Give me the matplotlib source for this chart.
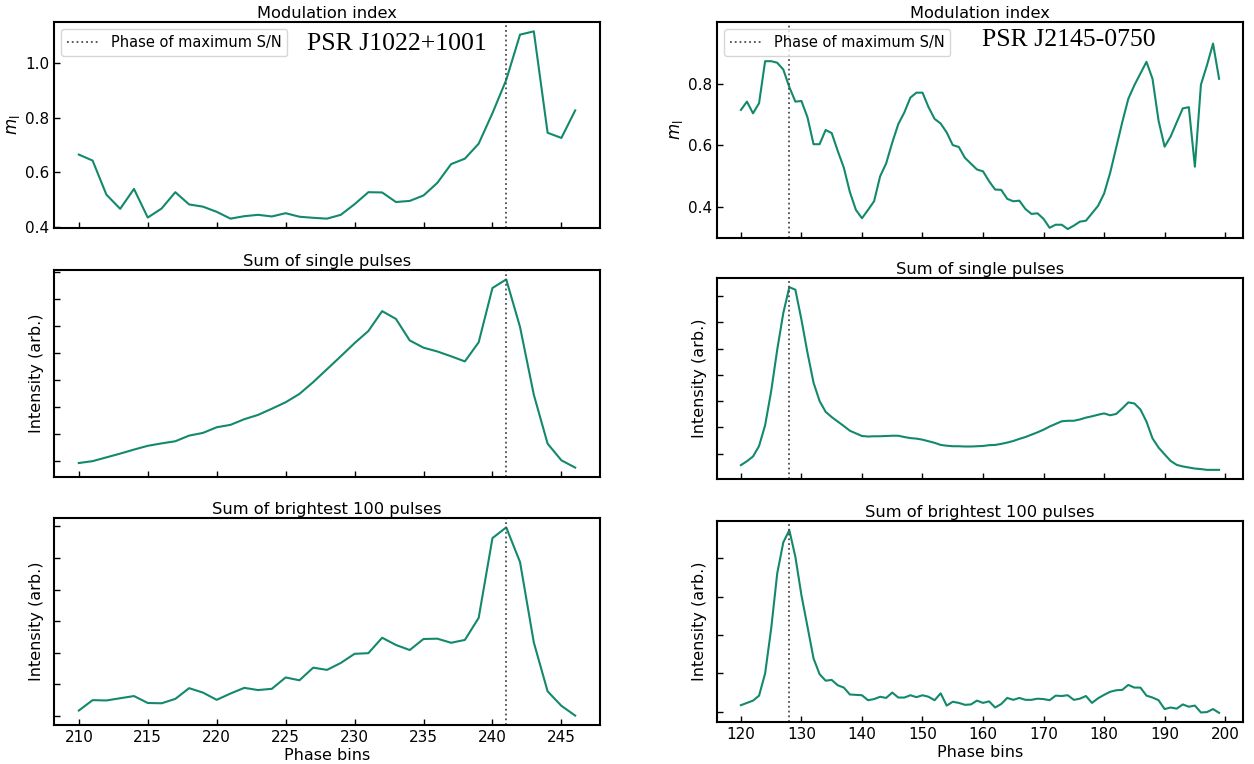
import numpy as np
import matplotlib
matplotlib.use("Agg")
import matplotlib.pyplot as plt
from matplotlib.ticker import MultipleLocator, NullFormatter

# PSR J1022+1001, phase bins 210..246
bins_a = np.arange(210, 247)
mod_a = [0.665, 0.643, 0.518, 0.466, 0.539, 0.434, 0.467, 0.527, 0.482, 0.474,
         0.455, 0.430, 0.439, 0.444, 0.438, 0.450, 0.437, 0.433, 0.430, 0.444,
         0.483, 0.527, 0.526, 0.491, 0.495, 0.515, 0.561, 0.630, 0.650, 0.705,
         0.817, 0.939, 1.105, 1.117, 0.745, 0.726, 0.827]
sum_a = [-0.09, -0.02, 0.12, 0.26, 0.41, 0.55, 0.64, 0.72, 0.93, 1.03,
         1.24, 1.33, 1.54, 1.70, 1.93, 2.17, 2.48, 2.92, 3.40, 3.88,
         4.37, 4.82, 5.56, 5.27, 4.47, 4.20, 4.06, 3.88, 3.69, 4.40,
         6.42, 6.74, 4.97, 2.45, 0.63, 0.01, -0.26]
bright_a = [0.16, 0.49, 0.48, 0.55, 0.62, 0.40, 0.39, 0.53, 0.87, 0.73,
            0.50, 0.70, 0.88, 0.81, 0.85, 1.21, 1.12, 1.52, 1.45, 1.67,
            1.96, 1.98, 2.47, 2.24, 2.08, 2.43, 2.44, 2.31, 2.40, 3.10,
            5.63, 5.97, 4.87, 2.32, 0.77, 0.31, 0.00]
peak_a = 241

# PSR J2145-0750, phase bins 120..199
bins_b = np.arange(120, 200)
mod_b = [0.715, 0.742, 0.704, 0.737, 0.873, 0.873, 0.868, 0.846, 0.789, 0.742,
         0.744, 0.691, 0.604, 0.604, 0.650, 0.640, 0.582, 0.528, 0.449, 0.391,
         0.364, 0.391, 0.419, 0.500, 0.542, 0.609, 0.669, 0.707, 0.755, 0.771,
         0.771, 0.724, 0.686, 0.671, 0.642, 0.601, 0.595, 0.560, 0.541, 0.522,
         0.516, 0.484, 0.457, 0.456, 0.427, 0.419, 0.421, 0.394, 0.378, 0.380,
         0.362, 0.333, 0.343, 0.343, 0.329, 0.340, 0.353, 0.356, 0.380, 0.404,
         0.444, 0.511, 0.593, 0.675, 0.751, 0.795, 0.833, 0.871, 0.816, 0.680,
         0.596, 0.629, 0.675, 0.720, 0.724, 0.531, 0.797, 0.860, 0.930, 0.816]
sum_b = [-0.44, -0.29, -0.11, 0.29, 1.08, 2.38, 3.96, 5.35, 6.34, 6.24,
         5.10, 3.84, 2.70, 2.00, 1.59, 1.39, 1.22, 1.05, 0.87, 0.77,
         0.67, 0.65, 0.66, 0.66, 0.67, 0.68, 0.68, 0.63, 0.59, 0.57,
         0.53, 0.47, 0.41, 0.33, 0.30, 0.28, 0.28, 0.27, 0.27, 0.28,
         0.29, 0.32, 0.33, 0.37, 0.42, 0.48, 0.56, 0.63, 0.72, 0.81,
         0.91, 1.03, 1.13, 1.23, 1.25, 1.25, 1.30, 1.37, 1.42, 1.48,
         1.53, 1.46, 1.51, 1.72, 1.95, 1.91, 1.68, 1.22, 0.58, 0.23,
         -0.03, -0.28, -0.43, -0.49, -0.53, -0.57, -0.59, -0.62, -0.62, -0.62]
bright_b = [0.17, 0.23, 0.29, 0.42, 1.00, 2.17, 3.61, 4.42, 4.74, 4.04,
            3.04, 2.22, 1.39, 0.98, 0.81, 0.83, 0.69, 0.63, 0.45, 0.44,
            0.43, 0.30, 0.33, 0.39, 0.36, 0.50, 0.37, 0.37, 0.43, 0.38,
            0.43, 0.39, 0.30, 0.48, 0.16, 0.26, 0.23, 0.18, 0.19, 0.29,
            0.23, 0.27, 0.11, 0.20, 0.36, 0.31, 0.36, 0.31, 0.31, 0.34,
            0.33, 0.30, 0.42, 0.41, 0.43, 0.31, 0.34, 0.41, 0.23, 0.35,
            0.44, 0.52, 0.56, 0.57, 0.70, 0.63, 0.63, 0.42, 0.37, 0.30,
            0.07, 0.11, 0.08, 0.19, 0.13, 0.16, -0.02, -0.01, 0.07, -0.03]
peak_b = 128

col = "#13896b"
W, H = 1254, 764
plt.rcParams["font.family"] = "DejaVu Sans"
plt.rcParams["font.size"] = 11
plt.rcParams["axes.linewidth"] = 1.5

fig = plt.figure(figsize=(W / 100, H / 100), dpi=100)


def box(x0, y0, x1, y1):
    return [x0 / W, 1 - y1 / H, (x1 - x0) / W, (y1 - y0) / H]


def panel(rect, x, y, peak, title, xstep, bottom=False):
    ax = fig.add_axes(rect)
    ax.plot(x, y, color=col, lw=1.5)
    ax.axvline(peak, color="0.3", ls=":", lw=1.3, label="Phase of maximum S/N")
    ax.set_title(title, fontsize=11.7, pad=3)
    ax.xaxis.set_major_locator(MultipleLocator(xstep))
    ax.tick_params(direction="in", length=4, width=1, labelsize=11,
                   top=False, right=False)
    if bottom:
        ax.set_xlabel("Phase bins", fontsize=11.5, labelpad=2)
    else:
        ax.xaxis.set_major_formatter(NullFormatter())
    return ax


def intensity(ax):
    ax.yaxis.set_major_locator(MultipleLocator(1))
    ax.yaxis.set_major_formatter(NullFormatter())
    ax.set_ylabel("Intensity (arb.)", fontsize=11.5)


# left column
ax = panel(box(54, 22, 600, 228), bins_a, mod_a, peak_a, "Modulation index", 5)
ax.set_ylabel(r"$m_{\rm l}$", fontsize=12, labelpad=2)
ax.set_yticks([0.4, 0.6, 0.8, 1.0])
ax.legend(loc="upper left", fontsize=10.5, handlelength=2.2)
ax.text(0.628, 0.895, "PSR J1022+1001", transform=ax.transAxes, ha="center",
        va="center", fontsize=18.5, family="Liberation Serif")

ax = panel(box(54, 270, 600, 477), bins_a, sum_a, peak_a, "Sum of single pulses", 5)
intensity(ax)
ax = panel(box(54, 518, 600, 725), bins_a, bright_a, peak_a,
           "Sum of brightest 100 pulses", 5, bottom=True)
intensity(ax)

# right column
ax = panel(box(717, 22, 1243, 238), bins_b, mod_b, peak_b, "Modulation index", 10)
ax.set_ylabel(r"$m_{\rm l}$", fontsize=12, labelpad=2)
ax.set_ylim(0.30, 1.0)
ax.set_yticks([0.4, 0.6, 0.8])
ax.legend(loc="upper left", fontsize=10.5, handlelength=2.2)
ax.text(0.668, 0.915, "PSR J2145-0750", transform=ax.transAxes, ha="center",
        va="center", fontsize=18.5, family="Liberation Serif")

ax = panel(box(717, 278, 1243, 479), bins_b, sum_b, peak_b, "Sum of single pulses", 10)
intensity(ax)
ax = panel(box(717, 521, 1243, 722), bins_b, bright_b, peak_b,
           "Sum of brightest 100 pulses", 10, bottom=True)
intensity(ax)

fig.savefig("out.png", dpi=100)
